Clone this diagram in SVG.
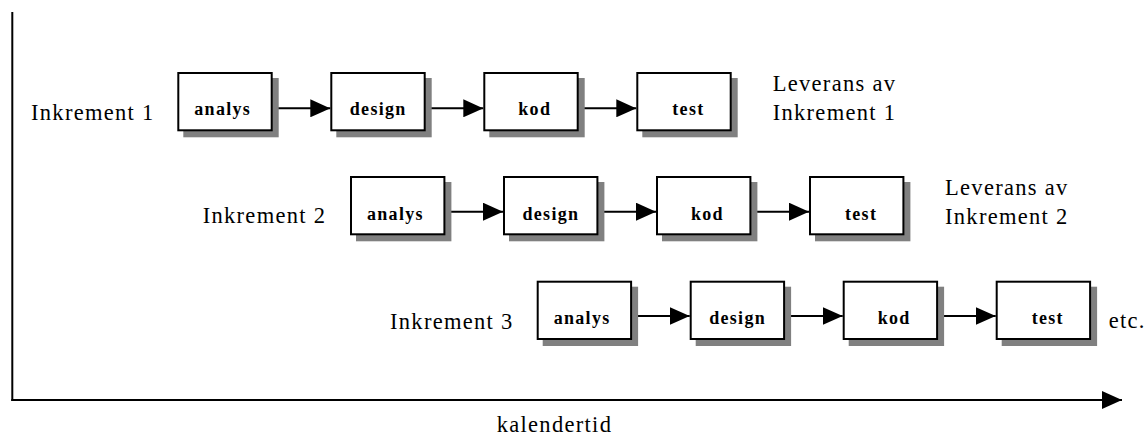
<svg xmlns="http://www.w3.org/2000/svg" width="1146" height="435" viewBox="0 0 1146 435">
<style>
.lbl{font-family:"Liberation Serif","Times New Roman",serif;font-size:22.5px;letter-spacing:1.3px;fill:#000}
.nt{font-family:"Liberation Serif","Times New Roman",serif;font-size:18px;font-weight:bold;letter-spacing:1.3px;fill:#000}
.box{fill:#fff;stroke:#000;stroke-width:2}
.sh{fill:#808080}
.ln{stroke:#000;stroke-width:2;fill:none}
</style>
<defs>
<marker id="ah" markerUnits="userSpaceOnUse" markerWidth="20" markerHeight="18" refX="20" refY="9" orient="auto">
<polygon points="0,0 20,9 0,18" fill="#000"/>
</marker>
</defs>
<g id="axes">
<line class="ln" x1="12.3" y1="12" x2="12.3" y2="401"/>
<line class="ln" x1="11.3" y1="400" x2="1122" y2="400" marker-end="url(#ah)"/>
<text class="lbl" x="496.7" y="431.7">kalendertid</text>
</g>
<g id="labels">
<text class="lbl" x="31" y="119.5">Inkrement 1</text>
<text class="lbl" x="202.7" y="223.3">Inkrement 2</text>
<text class="lbl" x="390" y="329">Inkrement 3</text>
<text class="lbl" x="772.7" y="91">Leverans av</text>
<text class="lbl" x="772.7" y="120">Inkrement 1</text>
<text class="lbl" x="945" y="195">Leverans av</text>
<text class="lbl" x="945" y="223.5">Inkrement 2</text>
<text class="lbl" x="1108.7" y="328.3">etc.</text>
</g>
<g id="connectors">
<line class="ln" x1="272.7" y1="108.3" x2="330.3" y2="108.3" marker-end="url(#ah)"/>
<line class="ln" x1="425.7" y1="108.3" x2="483.3" y2="108.3" marker-end="url(#ah)"/>
<line class="ln" x1="578.7" y1="108.3" x2="636.3" y2="108.3" marker-end="url(#ah)"/>
<line class="ln" x1="445.4" y1="211.7" x2="503" y2="211.7" marker-end="url(#ah)"/>
<line class="ln" x1="598.4" y1="211.7" x2="656" y2="211.7" marker-end="url(#ah)"/>
<line class="ln" x1="751.4" y1="211.7" x2="809" y2="211.7" marker-end="url(#ah)"/>
<line class="ln" x1="632.1" y1="316" x2="689.7" y2="316" marker-end="url(#ah)"/>
<line class="ln" x1="785.1" y1="316" x2="842.7" y2="316" marker-end="url(#ah)"/>
<line class="ln" x1="938.1" y1="316" x2="995.7" y2="316" marker-end="url(#ah)"/>
</g>
<g id="r1-analys"><rect class="sh" x="183.3" y="78" width="95.4" height="59.3"/><rect class="box" x="178.3" y="73" width="93.4" height="57.3"/><text class="nt" x="194.3" y="115">analys</text></g>
<g id="r1-design"><rect class="sh" x="336.3" y="78" width="95.4" height="59.3"/><rect class="box" x="331.3" y="73" width="93.4" height="57.3"/><text class="nt" x="349.8" y="115">design</text></g>
<g id="r1-kod"><rect class="sh" x="489.3" y="78" width="95.4" height="59.3"/><rect class="box" x="484.3" y="73" width="93.4" height="57.3"/><text class="nt" x="518.3" y="115">kod</text></g>
<g id="r1-test"><rect class="sh" x="642.3" y="78" width="95.4" height="59.3"/><rect class="box" x="637.3" y="73" width="93.4" height="57.3"/><text class="nt" x="672.3" y="115">test</text></g>
<g id="r2-analys"><rect class="sh" x="356" y="182" width="95.4" height="59.3"/><rect class="box" x="351" y="177" width="93.4" height="57.3"/><text class="nt" x="367" y="220">analys</text></g>
<g id="r2-design"><rect class="sh" x="509" y="182" width="95.4" height="59.3"/><rect class="box" x="504" y="177" width="93.4" height="57.3"/><text class="nt" x="522.5" y="220">design</text></g>
<g id="r2-kod"><rect class="sh" x="662" y="182" width="95.4" height="59.3"/><rect class="box" x="657" y="177" width="93.4" height="57.3"/><text class="nt" x="691" y="220">kod</text></g>
<g id="r2-test"><rect class="sh" x="815" y="182" width="95.4" height="59.3"/><rect class="box" x="810" y="177" width="93.4" height="57.3"/><text class="nt" x="845" y="220">test</text></g>
<g id="r3-analys"><rect class="sh" x="542.7" y="286.7" width="95.4" height="59.3"/><rect class="box" x="537.7" y="281.7" width="93.4" height="57.3"/><text class="nt" x="553.7" y="323.5">analys</text></g>
<g id="r3-design"><rect class="sh" x="695.7" y="286.7" width="95.4" height="59.3"/><rect class="box" x="690.7" y="281.7" width="93.4" height="57.3"/><text class="nt" x="709.2" y="323.5">design</text></g>
<g id="r3-kod"><rect class="sh" x="848.7" y="286.7" width="95.4" height="59.3"/><rect class="box" x="843.7" y="281.7" width="93.4" height="57.3"/><text class="nt" x="877.7" y="323.5">kod</text></g>
<g id="r3-test"><rect class="sh" x="1001.7" y="286.7" width="95.4" height="59.3"/><rect class="box" x="996.7" y="281.7" width="93.4" height="57.3"/><text class="nt" x="1031.7" y="323.5">test</text></g>
</svg>
